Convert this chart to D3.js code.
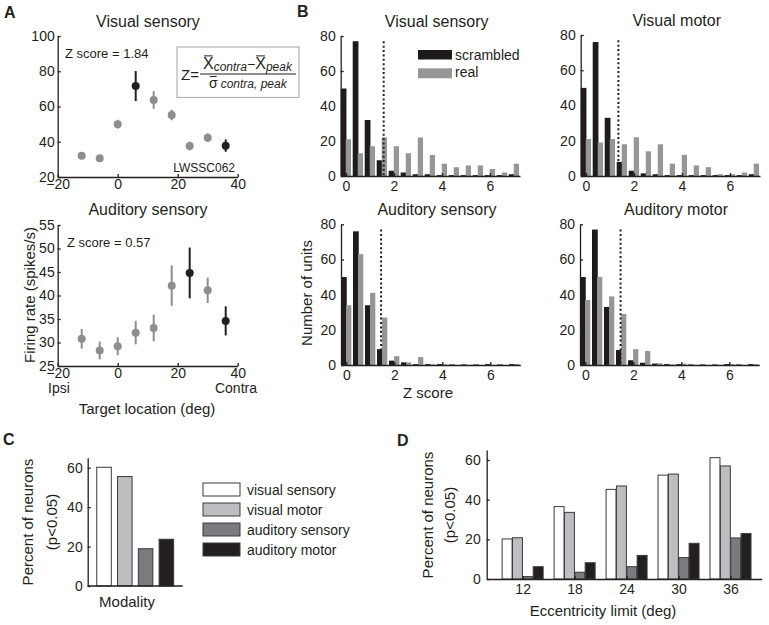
<!DOCTYPE html>
<html lang="en">
<head>
    <meta charset="UTF-8">
    <title>Z score figure</title>
    <script src="https://d3js.org/d3.v7.min.js"></script>
    <style>
        body { margin: 0; background: #fff; }
        svg { display: block; }
    </style>
</head>
<body>
<svg id="fig" width="769" height="625"></svg>
<script>
    // ---- panel A data: tuning curves of one unit ----
    const targetDeg = [-12, -6, 0, 6, 12, 18, 24, 30, 36];
    const visRate = [32, 30.6, 50, 71.6, 63.7, 55.2, 37.6, 42.3, 37.8];
    const visErr = [1.2, 1.2, 2.5, 8.5, 5, 3, 2.5, 2.5, 3.5];
    const visBlack = [6, 36];
    const audRate = [30.8, 28.3, 29.2, 32.1, 33.1, 42.1, 44.8, 41.1, 34.6];
    const audErr = [2.1, 1.9, 1.9, 2.5, 2.8, 4.3, 5.4, 2.7, 3.1];
    const audBlack = [24, 36];

    // ---- panel B data: histograms of Z scores ----
    const zBins = [0, 0.5, 1, 1.5, 2, 2.5, 3, 3.5, 4, 4.5, 5, 5.5, 6, 6.5, 7];
    const visSensScr = [50, 77, 32, 9, 3, 2, 1, 1, 0.5, 0.5, 0.5, 0.5, 0.5, 0.5, 1];
    const visSensReal = [21, 13, 17, 22, 17, 13, 22, 12, 7, 5, 6, 6, 4, 2, 7];
    const visMotScr = [50, 76, 33, 8, 3, 1.5, 1, 0.5, 0.5, 0.5, 0.5, 0.5, 0.5, 0.5, 1];
    const visMotReal = [21, 19, 21, 18, 22, 14, 18, 7, 12, 6, 5, 1, 1, 2, 7];
    const audSensScr = [50, 76, 34, 9, 2.5, 1.5, 0.5, 0.5, 0.5, 0.3, 0.3, 0.3, 0.5, 0.3, 0.5];
    const audSensReal = [34, 63, 41, 27, 5, 1.5, 4.5, 0.3, 0.3, 0, 0, 0, 0, 0, 0.5];
    const audMotScr = [50, 77, 33, 8.5, 2.7, 1.3, 0.8, 0.5, 0.5, 0.3, 0.3, 0.3, 0.5, 0.3, 0.5];
    const audMotReal = [37, 50, 39, 29, 9, 8, 1, 0.3, 0.8, 0, 0, 0, 0.5, 0, 0.5];
    const thresholds = [1.57, 1.35, 1.45, 1.47];

    // ---- panel C/D data ----
    const modalities = ["visual sensory", "visual motor", "auditory sensory", "auditory motor"];
    const modalityPct = [60.2, 55.5, 18.9, 23.7];
    const eccLimits = [12, 18, 24, 30, 36];
    const eccVisSens = [20.2, 36.5, 45.2, 52.4, 61.2];
    const eccVisMot = [20.8, 33.6, 46.9, 52.9, 57.0];
    const eccAudSens = [1.2, 3.4, 6.2, 10.8, 20.7];
    const eccAudMot = [6.2, 8.2, 11.9, 18.0, 22.9];

    const FONT = '"Liberation Sans", Arial, Helvetica, sans-serif';
    const INK = "#231f20";
    const GRAY = "#8e8e8e";
    const barColors = ["#ffffff", "#bdbec1", "#7a7b7e", "#231f20"];

    const svg = d3.select("#fig").style("font-family", FONT);
    svg.append("rect").attr("width", 769).attr("height", 625).attr("fill", "#fff");

    // simple text helper
    function label(g, x, y, str, size, anchor, extra) {
        const t = g.append("text")
            .attr("x", x).attr("y", y)
            .attr("font-size", size)
            .attr("text-anchor", anchor || "start")
            .attr("fill", INK)
            .text(str);
        if (extra) extra(t);
        return t;
    }

    // MATLAB style axes: ticks pointing inwards, no outer ticks
    function styleAxis(sel) {
        sel.attr("font-family", FONT).attr("font-size", 14);
        sel.selectAll("path, line").attr("stroke", INK).attr("stroke-width", 1.3);
        sel.selectAll("text").attr("fill", INK);
    }
    function leftAxis(g, y, xPos, ticks, pad) {
        g.append("g").attr("transform", `translate(${xPos},0)`)
            .call(d3.axisLeft(y).tickValues(ticks).tickSizeInner(-3).tickSizeOuter(0).tickPadding(pad || 4))
            .call(styleAxis);
    }
    function bottomAxis(g, x, yPos, ticks, pad) {
        const ax = d3.axisBottom(x).tickValues(ticks).tickSizeInner(-3).tickSizeOuter(0).tickPadding(pad || 5);
        g.append("g").attr("transform", `translate(0,${yPos})`)
            .call(ax)
            .call(styleAxis);
    }

    // ---------------- panel A ----------------
    label(svg, 4, 18, "A", 16, "start", t => t.attr("font-weight", "bold"));

    function tuningPanel(rates, errs, blacks, yDom, yTicks, top, bottom) {
        const g = svg.append("g");
        const x = d3.scaleLinear().domain([-20, 40]).range([57.7, 237.7]);
        const y = d3.scaleLinear().domain(yDom).range([bottom, top]);
        leftAxis(g, y, 57.7, yTicks, 3);
        bottomAxis(g, x, bottom, [-20, 0, 20, 40], 2);

        const pts = targetDeg.map((d, i) => ({ deg: d, v: rates[i], e: errs[i], black: blacks.includes(d) }));
        g.selectAll("line.err").data(pts).enter().append("line")
            .attr("x1", d => x(d.deg)).attr("x2", d => x(d.deg))
            .attr("y1", d => y(d.v - d.e)).attr("y2", d => y(d.v + d.e))
            .attr("stroke", d => d.black ? INK : GRAY)
            .attr("stroke-width", 2);
        g.selectAll("circle").data(pts).enter().append("circle")
            .attr("cx", d => x(d.deg)).attr("cy", d => y(d.v))
            .attr("r", 4)
            .attr("fill", d => d.black ? INK : GRAY);
        return g;
    }

    const gVis = tuningPanel(visRate, visErr, visBlack, [20, 100], [20, 40, 60, 80, 100], 36, 177);
    label(gVis, 148, 27, "Visual sensory", 16, "middle");
    label(gVis, 65, 58, "Z score = 1.84", 13);
    label(gVis, 235, 171.5, "LWSSC062", 12, "end");

    const gAud = tuningPanel(audRate, audErr, audBlack, [25, 55], [25, 30, 35, 40, 45, 50, 55], 225, 366);
    label(gAud, 148, 215, "Auditory sensory", 16, "middle");
    label(gAud, 67, 246.5, "Z score = 0.57", 13);
    label(gAud, 48, 393, "Ipsi", 14);
    label(gAud, 257, 393, "Contra", 14, "end");
    label(gAud, 147, 414, "Target location (deg)", 15, "middle");
    label(gAud, 0, 0, "Firing rate (spikes/s)", 15, "middle",
        t => t.attr("transform", "translate(35,295) rotate(-90)"));

    // formula box
    const fBox = svg.append("g");
    fBox.append("rect").attr("x", 177).attr("y", 47).attr("width", 122).attr("height", 50.5)
        .attr("fill", "#fff").attr("stroke", "#b4b4b4").attr("stroke-width", 1.2);
    // place a row of pieces one after another, measuring each
    function row(g, x0, y0, pieces) {
        let cx = x0;
        pieces.forEach(p => {
            const t = g.append("text").attr("x", cx).attr("y", y0 + (p.dy || 0))
                .attr("font-size", p.size).attr("fill", INK)
                .attr("font-style", p.italic ? "italic" : "normal")
                .text(p.s);
            const w = t.node().getComputedTextLength();
            if (p.bar) {
                g.append("line").attr("x1", cx + 1).attr("x2", cx + w - 1)
                    .attr("y1", y0 - p.size * 0.82).attr("y2", y0 - p.size * 0.82)
                    .attr("stroke", INK).attr("stroke-width", 1);
            }
            cx += w + (p.gap || 0);
        });
    }
    row(fBox, 181, 80, [{ s: "Z=", size: 15 }]);
    row(fBox, 203, 69, [
        { s: "X", size: 16, bar: true },
        { s: "contra", size: 12, italic: true, dy: 2 },
        { s: "\u2212", size: 14 },
        { s: "X", size: 16, bar: true },
        { s: "peak", size: 12, italic: true, dy: 2 }
    ]);
    fBox.append("line").attr("x1", 200).attr("x2", 296).attr("y1", 74).attr("y2", 74)
        .attr("stroke", INK).attr("stroke-width", 1);
    row(fBox, 209, 88, [
        { s: "\u03c3", size: 14, bar: true, gap: 3 },
        { s: "contra, peak", size: 12, italic: true }
    ]);

    // ---------------- panel B ----------------
    label(svg, 297, 17, "B", 16, "start", t => t.attr("font-weight", "bold"));

    function histPanel(scr, real, thr, title, left, top, bottom) {
        const g = svg.append("g");
        const x = d3.scaleLinear().domain([-0.22, 7.25]).range([left, left + 179.3]);
        const y = d3.scaleLinear().domain([0, 80]).range([bottom, top]);
        const rows = zBins.map((z, i) => ({ z: z, s: scr[i], r: real[i] }));

        g.selectAll("rect.scr").data(rows).enter().append("rect")
            .attr("x", d => x(d.z - 0.22)).attr("width", x(0.24) - x(0))
            .attr("y", d => y(d.s)).attr("height", d => y(0) - y(d.s))
            .attr("fill", "#1f1b1c");
        g.selectAll("rect.real").data(rows).enter().append("rect")
            .attr("x", d => x(d.z - 0.01)).attr("width", x(0.22) - x(0))
            .attr("y", d => y(d.r)).attr("height", d => y(0) - y(d.r))
            .attr("fill", "#969696");

        g.append("line").attr("x1", x(thr)).attr("x2", x(thr))
            .attr("y1", y(77)).attr("y2", y(0))
            .attr("stroke", INK).attr("stroke-width", 2).attr("stroke-dasharray", "2,2.4");

        leftAxis(g, y, left, [0, 20, 40, 60, 80], 5);
        bottomAxis(g, x, bottom, [0, 2, 4, 6]);
        label(g, left + 96, top - 9, title, 16, "middle");
        return g;
    }

    const gB1 = histPanel(visSensScr, visSensReal, thresholds[0], "Visual sensory", 340.7, 36, 176);
    histPanel(visMotScr, visMotReal, thresholds[1], "Visual motor", 580.7, 35, 176);
    const gB3 = histPanel(audSensScr, audSensReal, thresholds[2], "Auditory sensory", 341, 224.3, 365);
    histPanel(audMotScr, audMotReal, thresholds[3], "Auditory motor", 580, 224.3, 365);

    // legend
    gB1.append("rect").attr("x", 418).attr("y", 50).attr("width", 34).attr("height", 9.5).attr("fill", "#1f1b1c");
    gB1.append("rect").attr("x", 418).attr("y", 68.3).attr("width", 34).attr("height", 10).attr("fill", "#969696");
    label(gB1, 455, 60, "scrambled", 14);
    label(gB1, 455, 77, "real", 14);

    label(gB3, 428, 398, "Z score", 15, "middle");
    label(gB3, 0, 0, "Number of units", 15, "middle",
        t => t.attr("transform", "translate(312,293) rotate(-90)"));

    // ---------------- panel C ----------------
    label(svg, 3, 445, "C", 16, "start", t => t.attr("font-weight", "bold"));
    const gC = svg.append("g");
    const xC = d3.scaleBand().domain(modalities).range([87.7, 182.7]).paddingInner(0.3).paddingOuter(0.435);
    const yC = d3.scaleLinear().domain([0, 65]).range([586, 457.8]);
    gC.selectAll("rect").data(modalities).enter().append("rect")
        .attr("x", d => xC(d)).attr("width", xC.bandwidth())
        .attr("y", (d, i) => yC(modalityPct[i])).attr("height", (d, i) => yC(0) - yC(modalityPct[i]))
        .attr("fill", (d, i) => barColors[i])
        .attr("stroke", "#3a3a3a").attr("stroke-width", 1);
    leftAxis(gC, yC, 87.7, [0, 20, 40, 60], 5);
    gC.append("line").attr("x1", 87.7).attr("x2", 182.7).attr("y1", 586).attr("y2", 586)
        .attr("stroke", INK).attr("stroke-width", 1.3);
    label(gC, 127, 607, "Modality", 15, "middle");
    label(gC, 0, 0, "Percent of neurons", 15, "middle", t => t.attr("transform", "translate(33,522) rotate(-90)"));
    label(gC, 0, 0, "(p<0.05)", 15, "middle", t => t.attr("transform", "translate(57,522) rotate(-90)"));

    // legend for C
    const legC = gC.selectAll("g.leg").data(modalities).enter().append("g")
        .attr("transform", (d, i) => `translate(203,${483 + i * 20})`);
    legC.append("rect").attr("width", 37).attr("height", 13)
        .attr("fill", (d, i) => barColors[i]).attr("stroke", "#3a3a3a").attr("stroke-width", 1);
    legC.append("text").attr("x", 44).attr("y", 11.5).attr("font-size", 14).attr("fill", INK).text(d => d);

    // ---------------- panel D ----------------
    label(svg, 397, 446, "D", 16, "start", t => t.attr("font-weight", "bold"));
    const gD = svg.append("g");
    const xD = d3.scaleLinear().domain([7.85, 39.6]).range([486.7, 761.7]);
    const xSub = d3.scaleBand().domain(modalities).range([-20.5, 20.5]).paddingInner(0.04);
    const yD = d3.scaleLinear().domain([0, 65]).range([579, 450.1]);
    const eccSeries = [eccVisSens, eccVisMot, eccAudSens, eccAudMot];
    const dRows = [];
    eccLimits.forEach((e, j) => modalities.forEach((m, i) => dRows.push({ e: e, m: m, i: i, v: eccSeries[i][j] })));
    gD.selectAll("rect").data(dRows).enter().append("rect")
        .attr("x", d => xD(d.e) + xSub(d.m)).attr("width", xSub.bandwidth())
        .attr("y", d => yD(d.v)).attr("height", d => yD(0) - yD(d.v))
        .attr("fill", d => barColors[d.i])
        .attr("stroke", "#3a3a3a").attr("stroke-width", 1);
    leftAxis(gD, yD, 486.7, [0, 20, 40, 60], 6);
    bottomAxis(gD, xD, 579, eccLimits);
    label(gD, 603, 616, "Eccentricity limit (deg)", 15, "middle");
    label(gD, 0, 0, "Percent of neurons", 15, "middle", t => t.attr("transform", "translate(433,515) rotate(-90)"));
    label(gD, 0, 0, "(p<0.05)", 15, "middle", t => t.attr("transform", "translate(455,515) rotate(-90)"));
</script>
</body>
</html>
